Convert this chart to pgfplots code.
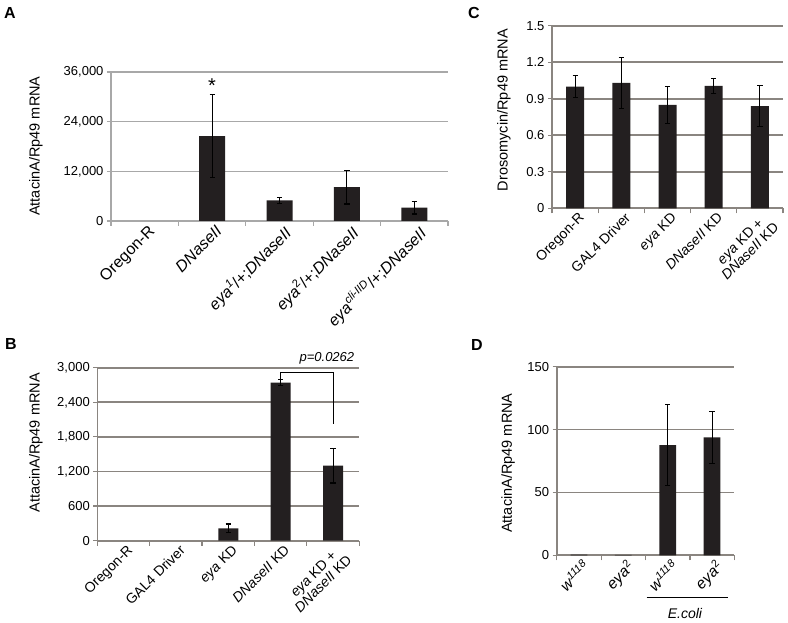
\documentclass[border=0pt]{standalone}
\usepackage{fontspec}
\setmainfont{Liberation Sans}
\usepackage{pgfplots}
\pgfplotsset{compat=1.18}

\definecolor{barfill}{HTML}{231F20}
\definecolor{gridA}{HTML}{A8A8A8}
\definecolor{gridB}{HTML}{8A8580}

\newcommand{\fs}[1]{\fontsize{#1}{#1}\selectfont}

\pgfplotsset{
  panel/.style={
    scale only axis, anchor=south west,
    axis lines*=left, ybar, bar shift=0pt,
    ymin=0, xmin=-0.5,
    ymajorgrids,
    tick align=outside,
    major tick length=4pt, minor tick length=5pt,
    xtick style={draw=none},
    ytick style={draw=gridB, line width=1.2pt},
    minor x tick style={draw=gridB, line width=1.2pt},
    grid style={gridB, line width=1.8pt},
    axis line style={gridB, line width=1.6pt},
    scaled y ticks=false,
    /pgf/number format/assume math mode=true,
    y tick label style={font=\fs{13}},
    ylabel style={font=\fs{14.5}, anchor=center},
    x tick label style={rotate=45, anchor=north east, align=center,
      xshift=4pt, yshift=0pt, inner sep=1.5pt},
  },
  bars/.style={fill=barfill, draw=none},
  errs/.style={fill=barfill, draw=none,
    error bars/.cd, y dir=both, y explicit,
    error bar style={black, line width=1.1pt},
    error mark options={black, rotate=90, mark size=2.6pt, line width=1.1pt}},
}

\begin{document}
\begin{tikzpicture}
\useasboundingbox (0,0) rectangle (788pt,623pt);

% panel letters
\node[font=\bfseries\fs{16}] at (10pt,610pt) {A};
\node[font=\bfseries\fs{16}] at (474pt,610pt) {C};
\node[font=\bfseries\fs{16}] at (11pt,279pt) {B};
\node[font=\bfseries\fs{16}] at (477pt,278pt) {D};

% ---- A ----
\begin{axis}[panel, at={(111pt,402pt)}, width=337pt, height=149pt,
  ymax=36000, ytick={0,12000,24000,36000},
  grid style={gridA, line width=1.4pt},
  axis line style={gridA, line width=1.4pt},
  ytick style={draw=gridA, line width=1.2pt},
  minor x tick style={draw=gridA, line width=1.2pt},
  bar width=26pt, xmax=4.5,
  xtick={0,...,4}, minor xtick={-0.5,0.5,1.5,2.5,3.5,4.5},
  xticklabels={Oregon-R, \textit{DNaseII},
    \textit{eya\textsuperscript{1}}/+;\textit{DNaseII},
    \textit{eya}\textsuperscript{2}/+;\textit{DNaseII},
    \textit{eya\textsuperscript{cli-IID}}/+;\textit{DNaseII}},
  x tick label style={font=\fs{16}},
  ylabel={AttacinA/Rp49 mRNA},
  ylabel style={at={(axis description cs:-0.2226,0.503)}},
]
\addplot[errs] coordinates {(1,20500) +- (0,10000) (2,5000) +- (0,750)
  (3,8200) +- (0,4100) (4,3200) +- (0,1500)};
\node[font=\fs{20}] at (axis cs:1,32800) {*};
\end{axis}

% ---- C ----
\begin{axis}[panel, at={(552pt,414.7pt)}, width=231pt, height=182.6pt,
  ymax=1.5, ytick={0,0.3,0.6,0.9,1.2,1.5},
  yticklabels={0,0.3,0.6,0.9,1.2,1.5},
  bar width=18pt, xmax=4.5,
  xtick={0,...,4}, minor xtick={-0.5,0.5,1.5,2.5,3.5,4.5},
  xticklabels={Oregon-R, GAL4 Driver, \textit{eya} KD, \textit{DNaseII} KD,
    {\textit{eya} KD +\\\textit{DNaseII} KD}},
  x tick label style={font=\fs{14}},
  ylabel={Drosomycin/Rp49 mRNA},
  ylabel style={at={(axis description cs:-0.208,0.538)}},
]
\addplot[errs] coordinates {(0,1.0) +- (0,0.09) (1,1.03) +- (0,0.21)
  (2,0.85) +- (0,0.15) (3,1.005) +- (0,0.06) (4,0.84) +- (0,0.17)};
\end{axis}

% ---- B ----
\begin{axis}[panel, at={(97.3pt,82.3pt)}, width=262pt, height=173pt,
  ymax=3000, ytick={0,600,1200,1800,2400,3000}, clip=false,
  bar width=20pt, xmax=4.5,
  xtick={0,...,4}, minor xtick={-0.5,0.5,1.5,2.5,3.5,4.5},
  xticklabels={Oregon-R, GAL4 Driver, \textit{eya} KD, \textit{DNaseII} KD,
    {\textit{eya} KD +\\\textit{DNaseII} KD}},
  x tick label style={font=\fs{14}},
  ylabel={AttacinA/Rp49 mRNA},
  ylabel style={at={(axis description cs:-0.234,0.565)}},
]
\addplot[errs] coordinates {(2,215) +- (0,75) (3,2740) +- (0,55)
  (4,1300) +- (0,300)};
\draw[black, line width=0.8pt] (axis cs:3,2800) -- (axis cs:3,2910)
  -- (axis cs:4,2910) -- (axis cs:4,2020);
\node[anchor=east, font=\itshape\fs{13}] at (axis cs:4.47,3163) {p=0.0262};
\end{axis}

% ---- D ----
\begin{axis}[panel, at={(556.7pt,67.7pt)}, width=177.6pt, height=188.6pt,
  ymax=150, ytick={0,50,100,150}, clip=false,
  bar width=16.7pt, xmax=3.5,
  xtick={0,...,3}, minor xtick={-0.5,0.5,1.5,2.5,3.5},
  xticklabels={\textit{w\textsuperscript{1118}}, \textit{eya}\textsuperscript{2},
    \textit{w\textsuperscript{1118}}, \textit{eya}\textsuperscript{2}},
  x tick label style={font=\fs{15.5}},
  ylabel={AttacinA/Rp49 mRNA},
  ylabel style={at={(axis description cs:-0.274,0.489)}},
]
\addplot[bars] coordinates {(0,0.5) (1,0.4)};
\addplot[errs] coordinates {(2,87.7) +- (0,32) (3,93.8) +- (0,20.7)};
\draw[black, line width=1.2pt] (rel axis cs:0.507,-0.2227) -- (rel axis cs:0.966,-0.2227);
\node[font=\itshape\fs{14}] at (rel axis cs:0.722,-0.311) {E.coli};
\end{axis}
\end{tikzpicture}
\end{document}
